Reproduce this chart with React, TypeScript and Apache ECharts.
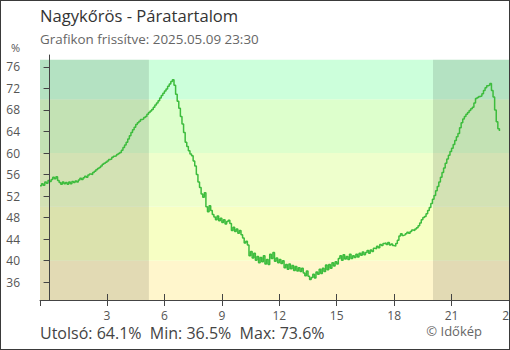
import React, { useEffect, useRef } from "react";
import * as echarts from "echarts";

const TITLE = "Nagykőrös - Páratartalom";
const SUBTITLE = "Grafikon frissítve: 2025.05.09 23:30";
const STATS = "Utolsó: 64.1%  Min: 36.5%  Max: 73.6%";
const CREDIT = "© Időkép";

// time axis (hours), first reading at 23:30 of the previous day, every 5 minutes
const START_HOUR = -0.5;
const STEP_MINUTES = 5;
const X_MIN = -0.5;
const X_MAX = 24;
const X_LABELS = [3, 6, 9, 12, 15, 18, 21, 24];
const Y_MIN = 32.7;
const Y_MAX = 78.2;
const Y_TOP = 77.3;
const Y_LABELS = [36, 40, 44, 48, 52, 56, 60, 64, 68, 72, 76];

// humidity level bands
const BAND_EDGES = [32.7, 40, 50, 60, 70, 77.3];
const BAND_COLORS = ["#fff6cc", "#f7ffc4", "#eeffcc", "#ddffcc", "#ccffdb"];

// night (before sunrise, after sunset)
const NIGHTS = [
  [-0.5, 5.19],
  [20.03, 24],
];

const humidity = [
  53.9, 54.3, 54.0, 54.6, 54.4, 54.9,
  54.7, 55.1, 55.5, 55.2, 55.6, 54.9, 54.5, 54.2, 54.6, 54.3, 54.5, 54.2,
  54.6, 54.3, 54.7, 54.5, 54.8, 54.6, 55.0, 55.3, 55.1, 55.4, 55.7, 55.5,
  55.9, 56.1, 56.0, 56.4, 56.6, 56.9, 57.1, 57.3, 57.6, 57.9, 58.1, 58.3,
  58.5, 58.8, 58.9, 59.2, 59.4, 59.5, 59.7, 59.9, 60.1, 60.5, 61.0, 61.5,
  62.0, 62.6, 63.2, 63.8, 64.3, 64.8, 65.3, 65.6, 65.9, 66.2, 66.3, 66.6,
  66.8, 67.2, 67.5, 67.8, 68.1, 68.5, 68.9, 69.3, 69.7, 70.2, 70.7, 71.1,
  71.5, 71.9, 72.4, 72.8, 73.3, 73.6, 72.6, 70.9, 69.6, 68.3, 66.8, 65.4,
  63.8, 62.0, 61.2, 60.4, 59.8, 59.5, 58.5, 57.6, 56.0, 54.6, 53.6, 52.4,
  51.8, 52.6, 50.0, 49.1, 50.2, 49.3, 48.6, 48.1, 47.6, 48.3, 47.4, 47.9,
  47.1, 47.6, 46.8, 47.3, 47.5, 46.9, 45.6, 46.2, 45.4, 45.9, 45.1, 45.6,
  44.8, 44.2, 43.3, 43.6, 42.9, 40.9, 41.7, 40.5, 41.4, 40.1, 40.8, 39.6,
  40.6, 39.8, 40.9, 39.4, 40.2, 39.3, 41.2, 40.4, 41.5, 39.9, 40.5, 39.6,
  40.2, 39.5, 40.0, 38.7, 39.3, 38.4, 39.4, 38.5, 39.1, 38.2, 38.9, 38.1,
  38.7, 38.0, 38.6, 37.7, 37.2, 38.1, 37.1, 36.5, 36.9, 37.5, 36.8, 37.9,
  37.5, 38.4, 37.6, 38.6, 38.0, 39.2, 38.3, 39.3, 38.6, 39.6, 39.0, 39.8,
  39.4, 40.4, 40.9, 40.1, 41.1, 40.3, 40.8, 40.2, 41.2, 40.4, 40.9, 40.6,
  41.2, 40.7, 41.4, 41.0, 41.6, 41.1, 41.5, 41.9, 41.4, 42.0, 41.7, 42.3,
  42.2, 42.7, 42.4, 43.0, 42.8, 43.2, 43.3, 43.0, 43.4, 42.9, 43.1, 42.8,
  42.7, 43.2, 43.8, 44.6, 45.0, 44.7, 44.8, 45.0, 45.3, 45.1, 45.4, 45.7,
  45.6, 45.9, 46.1, 46.5, 47.0, 47.6, 48.0, 48.2, 48.7, 49.3, 49.9, 50.6,
  51.4, 52.1, 53.0, 53.8, 54.6, 55.5, 56.4, 57.2, 58.1, 58.9, 59.6, 60.3,
  60.9, 61.6, 62.3, 63.0, 63.6, 64.7, 65.6, 66.3, 66.8, 67.2, 67.5, 67.9,
  68.2, 68.5, 69.3, 70.1, 70.3, 70.5, 70.6, 71.0, 71.6, 72.1, 72.5, 72.6,
  72.9, 71.6, 70.4, 68.0, 65.8, 64.5, 64.1,
];

const FONT = "'Open Sans', 'Noto Sans', sans-serif";
const AXIS_COLOR = "#444";

const GRID_LEFT = 40;
const GRID_RIGHT = 1;
const GRID_TOP = 55;
const GRID_BOTTOM = 50;
const CHART_W = 510;
const CHART_H = 350;
const PLOT_W = CHART_W - GRID_LEFT - GRID_RIGHT;
const PLOT_H = CHART_H - GRID_TOP - GRID_BOTTOM;

export default function App() {
  const ref = useRef<HTMLDivElement>(null);

  useEffect(() => {
    if (!ref.current) return;
    const chart = echarts.init(ref.current, null, { renderer: "svg" });
    const data = humidity.map((v, i) => [START_HOUR + (i * STEP_MINUTES) / 60, v]);

    const bandAreas = BAND_COLORS.map((c, i) => [
      { yAxis: BAND_EDGES[i], itemStyle: { color: c } },
      { yAxis: BAND_EDGES[i + 1] },
    ]);
    const nightAreas = NIGHTS.map(([a, b]) => [
      { xAxis: a, yAxis: Y_MIN },
      { xAxis: b, yAxis: Y_TOP },
    ]);

    const tickStyle = { color: AXIS_COLOR, width: 1 };

    chart.setOption({
      animation: false,
      backgroundColor: "#ffffff",
      textStyle: { fontFamily: FONT },
      grid: {
        left: GRID_LEFT,
        right: GRID_RIGHT,
        top: GRID_TOP,
        bottom: GRID_BOTTOM,
        containLabel: false,
        outerBoundsMode: "none",
      },
      xAxis: [
        {
          type: "value",
          z: 10,
          min: X_MIN,
          max: X_MAX,
          position: "bottom",
          axisLine: { show: true, lineStyle: tickStyle },
          axisTick: {
            show: true,
            length: 6,
            customValues: [X_MIN, ...X_LABELS],
            lineStyle: tickStyle,
          },
          axisLabel: {
            customValues: X_LABELS,
            color: "#555",
            fontSize: 12,
            margin: 9,
            fontFamily: FONT,
            hideOverlap: false,
          },
          splitLine: { show: false },
        },
        {
          // upper half of the crossing ticks: a "top" axis shifted onto the bottom edge
          type: "value",
          z: 10,
          min: X_MIN,
          max: X_MAX,
          position: "top",
          offset: -PLOT_H,
          axisLine: { show: false },
          axisTick: {
            show: true,
            inside: false,
            length: 6,
            customValues: X_LABELS,
            lineStyle: tickStyle,
          },
          axisLabel: { show: false },
          splitLine: { show: false },
        },
      ],
      yAxis: [
        {
          type: "value",
          z: 10,
          min: Y_MIN,
          max: Y_MAX,
          position: "left",
          axisLine: { show: true, lineStyle: tickStyle },
          axisTick: {
            show: true,
            length: 6,
            customValues: [Y_MIN, ...Y_LABELS],
            lineStyle: tickStyle,
          },
          axisLabel: {
            customValues: Y_LABELS,
            color: "#555",
            fontSize: 12,
            margin: 20,
            fontFamily: FONT,
          },
          splitLine: { show: false },
        },
        {
          // right half of the crossing ticks: a "right" axis shifted onto the left edge
          type: "value",
          z: 10,
          min: Y_MIN,
          max: Y_MAX,
          position: "right",
          offset: -PLOT_W,
          axisLine: { show: false },
          axisTick: {
            show: true,
            inside: false,
            length: 6,
            customValues: Y_LABELS,
            lineStyle: tickStyle,
          },
          axisLabel: { show: false },
          splitLine: { show: false },
        },
      ],
      series: [
        {
          type: "line",
          data: [],
          silent: true,
          z: 1,
          markArea: { silent: true, data: bandAreas, itemStyle: { opacity: 1 } },
        },
        {
          type: "line",
          data: [],
          silent: true,
          z: 2,
          markArea: {
            silent: true,
            data: nightAreas,
            itemStyle: { color: "rgba(0,0,0,0.115)" },
          },
        },
        {
          type: "line",
          data,
          z: 5,
          step: "end",
          showSymbol: false,
          symbol: "none",
          lineStyle: { color: "#3dbc3d", width: 1.5 },
        },
      ],
      graphic: [
        {
          type: "text",
          left: 40,
          top: 7,
          style: { text: TITLE, font: `16.6px ${FONT}`, fill: "#333" },
        },
        {
          type: "text",
          left: 40,
          top: 32,
          style: { text: SUBTITLE, font: `13.4px ${FONT}`, fill: "#666" },
        },
        {
          type: "text",
          left: 11,
          top: 42,
          style: { text: "%", font: `11px ${FONT}`, fill: "#555" },
        },
        {
          type: "text",
          left: 40,
          top: 325,
          style: { text: STATS, font: `16px ${FONT}`, fill: "#444" },
        },
        {
          type: "text",
          right: 28,
          top: 324,
          style: { text: CREDIT, font: `13px ${FONT}`, fill: "#666" },
        },
      ],
    });

    return () => chart.dispose();
  }, []);

  return (
    <div style={{ position: "fixed", left: 0, top: 0, width: CHART_W, height: CHART_H }}>
      <div ref={ref} style={{ width: CHART_W, height: CHART_H }} />
      <div
        style={{
          position: "absolute",
          left: 0,
          top: 0,
          width: CHART_W,
          height: CHART_H,
          boxSizing: "border-box",
          border: "1px solid #3a3a3a",
          pointerEvents: "none",
        }}
      />
    </div>
  );
}
